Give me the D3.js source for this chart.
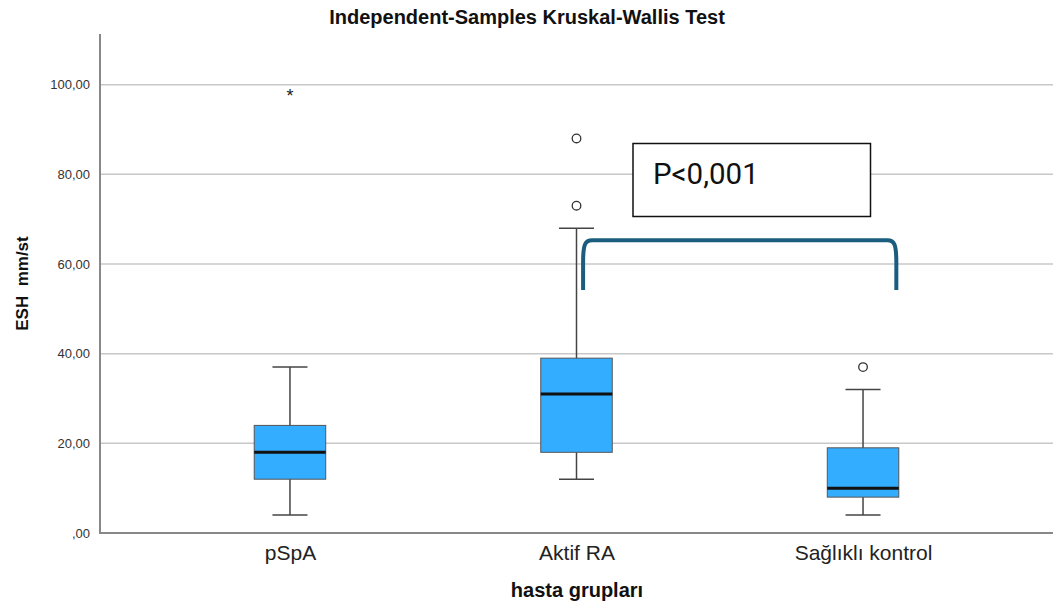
<!DOCTYPE html>
<html>
<head>
<meta charset="utf-8">
<script src="https://cdn.jsdelivr.net/npm/d3@7"></script>
<style>
  body { margin: 0; background: #fff; }
  svg { display: block; font-family: "Liberation Sans", Arial, sans-serif; }
</style>
</head>
<body>
<svg id="chart" width="1064" height="610"></svg>
<script>
// Groups and five-number summaries of ESH (mm/st)
const categories = ["pSpA", "Aktif RA", "Sağlıklı kontrol"];
const whiskerLow = [4, 12, 4];
const q1 = [12, 18, 8];
const median = [18, 31, 10];
const q3 = [24, 39, 19];
const whiskerHigh = [37, 68, 32];
// Outliers: circles are mild, stars are extreme
const mildOutliers = [[], [73, 88], [37]];
const extremeOutliers = [[98], [], []];
const yTicks = [0, 20, 40, 60, 80, 100];
const yTickLabels = [",00", "20,00", "40,00", "60,00", "80,00", "100,00"];
const pLabel = "P<0,001";

const svg = d3.select("#chart");
const plotLeft = 100, plotRight = 1053, plotTop = 34, plotBottom = 533;

const x = d3.scalePoint().domain(categories).range([plotLeft, plotRight]).padding(0.663);
const y = d3.scaleLinear().domain([0, 111.3]).range([plotBottom, plotTop]);

// Title
svg.append("text")
  .attr("x", 527).attr("y", 24)
  .attr("text-anchor", "middle")
  .attr("font-weight", "bold").attr("font-size", 20).attr("fill", "#111")
  .text("Independent-Samples Kruskal-Wallis Test");

// Horizontal grid lines
svg.append("g").selectAll("line").data(yTicks.filter(d => d > 0)).join("line")
  .attr("x1", plotLeft).attr("x2", plotRight)
  .attr("y1", d => y(d)).attr("y2", d => y(d))
  .attr("stroke", "#c8c8c8").attr("stroke-width", 1.5);

// Y axis
const yAxis = d3.axisLeft(y).tickValues(yTicks)
  .tickFormat((d, i) => yTickLabels[i]).tickSize(0).tickPadding(10);
const gy = svg.append("g").attr("transform", `translate(${plotLeft},0)`).call(yAxis);
gy.select(".domain").remove();
gy.selectAll("text").attr("font-size", 13).attr("fill", "#333")
  .attr("font-family", "Liberation Sans, Arial, sans-serif");
svg.append("line").attr("x1", plotLeft).attr("x2", plotLeft).attr("y1", plotTop).attr("y2", plotBottom)
  .attr("stroke", "#888").attr("stroke-width", 2);

// X axis
const xAxis = d3.axisBottom(x).tickSize(0).tickPadding(12);
const gx = svg.append("g").attr("transform", `translate(0,${plotBottom})`).call(xAxis);
gx.select(".domain").remove();
gx.selectAll("text").attr("font-size", 21).attr("fill", "#222")
  .attr("font-family", "Liberation Sans, Arial, sans-serif");
svg.append("line").attr("x1", plotLeft - 1).attr("x2", plotRight).attr("y1", plotBottom).attr("y2", plotBottom)
  .attr("stroke", "#888").attr("stroke-width", 2);

// Axis titles
svg.append("text")
  .attr("transform", `translate(28,${(plotTop + plotBottom) / 2}) rotate(-90)`)
  .attr("text-anchor", "middle").attr("font-weight", "bold").attr("font-size", 17).attr("fill", "#111")
  .style("white-space", "pre")
  .text("ESH  mm/st");
svg.append("text")
  .attr("x", 577).attr("y", 597)
  .attr("text-anchor", "middle").attr("font-weight", "bold").attr("font-size", 20).attr("fill", "#111")
  .text("hasta grupları");

// Boxplots
const boxW = 71.5, capW = 35;
const groups = svg.append("g").selectAll("g").data(categories).join("g");
groups.append("line")
  .attr("x1", d => x(d)).attr("x2", d => x(d))
  .attr("y1", (d, i) => y(whiskerLow[i])).attr("y2", (d, i) => y(whiskerHigh[i]))
  .attr("stroke", "#444").attr("stroke-width", 1.5);
groups.append("line")
  .attr("x1", d => x(d) - capW / 2).attr("x2", d => x(d) + capW / 2)
  .attr("y1", (d, i) => y(whiskerHigh[i])).attr("y2", (d, i) => y(whiskerHigh[i]))
  .attr("stroke", "#444").attr("stroke-width", 1.5);
groups.append("line")
  .attr("x1", d => x(d) - capW / 2).attr("x2", d => x(d) + capW / 2)
  .attr("y1", (d, i) => y(whiskerLow[i])).attr("y2", (d, i) => y(whiskerLow[i]))
  .attr("stroke", "#444").attr("stroke-width", 1.5);
groups.append("rect")
  .attr("x", d => x(d) - boxW / 2).attr("width", boxW)
  .attr("y", (d, i) => y(q3[i])).attr("height", (d, i) => y(q1[i]) - y(q3[i]))
  .attr("fill", "#33adff").attr("stroke", "#555").attr("stroke-width", 1);
groups.append("line")
  .attr("x1", d => x(d) - boxW / 2).attr("x2", d => x(d) + boxW / 2)
  .attr("y1", (d, i) => y(median[i])).attr("y2", (d, i) => y(median[i]))
  .attr("stroke", "#111").attr("stroke-width", 3);

// Outliers
categories.forEach((c, i) => {
  svg.append("g").selectAll("circle").data(mildOutliers[i]).join("circle")
    .attr("cx", x(c)).attr("cy", d => y(d)).attr("r", 4.3)
    .attr("fill", "#fff").attr("stroke", "#333").attr("stroke-width", 1.3);
  svg.append("g").selectAll("text").data(extremeOutliers[i]).join("text")
    .attr("x", x(c)).attr("y", d => y(d) + 8)
    .attr("text-anchor", "middle").attr("font-size", 18).attr("fill", "#222")
    .text("*");
});

// Significance bracket between Aktif RA and Sağlıklı kontrol
const bx1 = x(categories[1]) + 6.6, bx2 = x(categories[2]) + 33.3;
const bTop = y(65.3), bBot = y(54.2);
svg.append("path")
  .attr("d", `M${bx1},${bBot} L${bx1},${bTop + 22} C${bx1},${bTop + 4} ${bx1 + 2},${bTop} ${bx1 + 9},${bTop}
              L${bx2 - 9},${bTop} C${bx2 - 2},${bTop} ${bx2},${bTop + 4} ${bx2},${bTop + 22} L${bx2},${bBot}`)
  .attr("fill", "none").attr("stroke", "#1b5d7e").attr("stroke-width", 4);

// P-value label box
svg.append("rect")
  .attr("x", 633).attr("y", 143.5).attr("width", 237.5).attr("height", 73)
  .attr("fill", "#fff").attr("stroke", "#111").attr("stroke-width", 1.5);
svg.append("text")
  .attr("x", 653).attr("y", 183.5)
  .attr("font-family", "Roboto, sans-serif").attr("font-size", 29.5).attr("fill", "#111")
  .text(pLabel);
</script>
</body>
</html>
